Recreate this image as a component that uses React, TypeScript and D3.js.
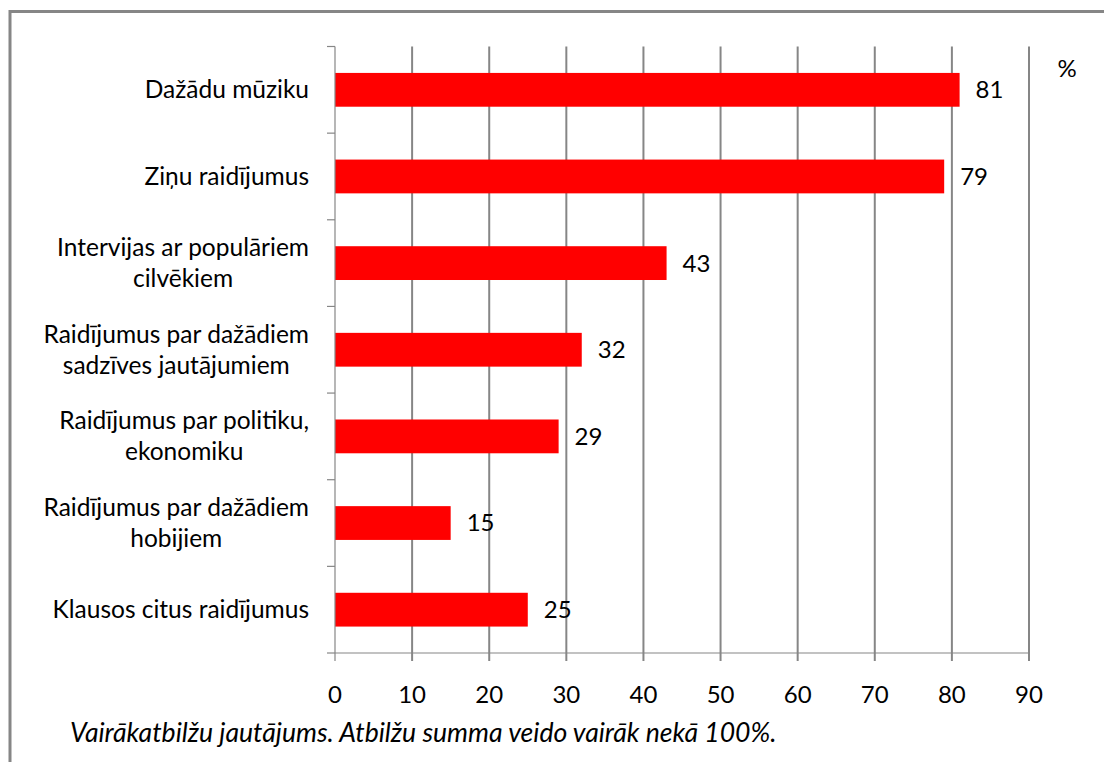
import React, { useEffect, useRef } from "react";
import * as d3 from "d3";

const categories: string[][] = [
  ["Dažādu mūziku"],
  ["Ziņu raidījumus"],
  ["Intervijas ar populāriem", "cilvēkiem"],
  ["Raidījumus par dažādiem", "sadzīves jautājumiem"],
  ["Raidījumus par politiku,", "ekonomiku"],
  ["Raidījumus par dažādiem", "hobijiem"],
  ["Klausos citus raidījumus"],
];
const values: number[] = [81, 79, 43, 32, 29, 15, 25];
const xTicks: number[] = [0, 10, 20, 30, 40, 50, 60, 70, 80, 90];
const unitLabel = "%";
const footnote = "Vairākatbilžu jautājums. Atbilžu summa veido vairāk nekā 100%.";

const W = 1104;
const H = 762;
const FONT = "Lato, 'Open Sans', sans-serif";
const GRAY = "#868686";

export default function App() {
  const ref = useRef<SVGSVGElement | null>(null);

  useEffect(() => {
    const svg = d3.select(ref.current);
    svg.selectAll("*").remove();

    const x = d3.scaleLinear().domain([0, 90]).range([335, 1029]);
    const keys = categories.map((_, i) => String(i));
    const y = d3
      .scaleBand<string>()
      .domain(keys)
      .range([46.5, 653])
      .paddingInner(0.61)
      .paddingOuter(0.305);
    const step = y.step();
    const top = 46.5;
    const bottom = 653;

    // frame
    svg
      .append("path")
      .attr("d", `M10,${H + 5}L10,11.5L${W + 5},11.5`)
      .attr("fill", "none")
      .attr("stroke", GRAY)
      .attr("stroke-width", 3);

    // gridlines
    svg
      .append("g")
      .selectAll("line")
      .data(xTicks.filter((t) => t > 0))
      .join("line")
      .attr("x1", (d) => x(d))
      .attr("x2", (d) => x(d))
      .attr("y1", top)
      .attr("y2", bottom)
      .attr("stroke", GRAY)
      .attr("stroke-width", 2);

    // bars
    svg
      .append("g")
      .selectAll("rect")
      .data(values)
      .join("rect")
      .attr("x", x(0))
      .attr("y", (_, i) => y(String(i)) as number)
      .attr("width", (d) => x(d) - x(0))
      .attr("height", y.bandwidth())
      .attr("fill", "#FF0000");

    // y axis line
    svg
      .append("line")
      .attr("x1", x(0))
      .attr("x2", x(0))
      .attr("y1", top)
      .attr("y2", bottom)
      .attr("stroke", GRAY)
      .attr("stroke-width", 1.2);

    // y tick marks at band boundaries
    const bounds = d3.range(categories.length + 1).map((i) => top + i * step);
    svg
      .append("g")
      .selectAll("line")
      .data(bounds)
      .join("line")
      .attr("x1", x(0) - 8)
      .attr("x2", x(0))
      .attr("y1", (d) => d)
      .attr("y2", (d) => d)
      .attr("stroke", GRAY)
      .attr("stroke-width", 1.2);

    // x axis line
    svg
      .append("line")
      .attr("x1", x(0))
      .attr("x2", x(90))
      .attr("y1", bottom)
      .attr("y2", bottom)
      .attr("stroke", GRAY)
      .attr("stroke-width", 1.2);

    svg
      .append("g")
      .selectAll("line")
      .data(xTicks)
      .join("line")
      .attr("x1", (d) => x(d))
      .attr("x2", (d) => x(d))
      .attr("y1", bottom)
      .attr("y2", bottom + 8)
      .attr("stroke", GRAY)
      .attr("stroke-width", (d) => (d === 0 ? 1.2 : 2));

    // x tick labels
    svg
      .append("g")
      .selectAll("text")
      .data(xTicks)
      .join("text")
      .attr("x", (d) => x(d))
      .attr("y", 695)
      .attr("dy", "0.35em")
      .attr("text-anchor", "middle")
      .attr("font-family", FONT)
      .attr("font-size", 24)
      .attr("fill", "#000")
      .text((d) => String(d));

    // category labels (multi-line, centered block, right aligned at 309)
    const lineH = 31;
    const rightEdge = 309;
    categories.forEach((lines, i) => {
      const cy = (y(String(i)) as number) + y.bandwidth() / 2;
      const g = svg.append("g");
      const texts = lines.map((ln, j) =>
        g
          .append("text")
          .attr("y", cy + (j - (lines.length - 1) / 2) * lineH)
          .attr("dy", "0.35em")
          .attr("text-anchor", "middle")
          .attr("font-family", FONT)
          .attr("font-size", 24.5)
          .attr("fill", "#000")
          .text(ln)
      );
      const widths = texts.map((t) => (t.node() as SVGTextElement).getComputedTextLength());
      const maxW = Math.max(...widths);
      const cx = rightEdge - maxW / 2;
      texts.forEach((t) => t.attr("x", cx));
    });

    // value labels
    svg
      .append("g")
      .selectAll("text")
      .data(values)
      .join("text")
      .attr("x", (d) => x(d) + 16)
      .attr("y", (_, i) => (y(String(i)) as number) + y.bandwidth() / 2)
      .attr("dy", "0.35em")
      .attr("font-family", FONT)
      .attr("font-size", 24)
      .attr("fill", "#000")
      .text((d) => String(d));

    // unit
    svg
      .append("text")
      .attr("x", 1067)
      .attr("y", 69)
      .attr("dy", "0.35em")
      .attr("text-anchor", "middle")
      .attr("font-family", FONT)
      .attr("font-size", 24)
      .attr("fill", "#000")
      .text(unitLabel);

    // footnote
    svg
      .append("text")
      .attr("x", 70)
      .attr("y", 733)
      .attr("dy", "0.35em")
      .attr("font-family", FONT)
      .attr("font-style", "italic")
      .attr("font-size", 26.6)
      .attr("fill", "#000")
      .text(footnote);
  }, []);

  return (
    <svg
      ref={ref}
      width={W}
      height={H}
      style={{ position: "absolute", left: 0, top: 0, background: "#fff" }}
    />
  );
}
